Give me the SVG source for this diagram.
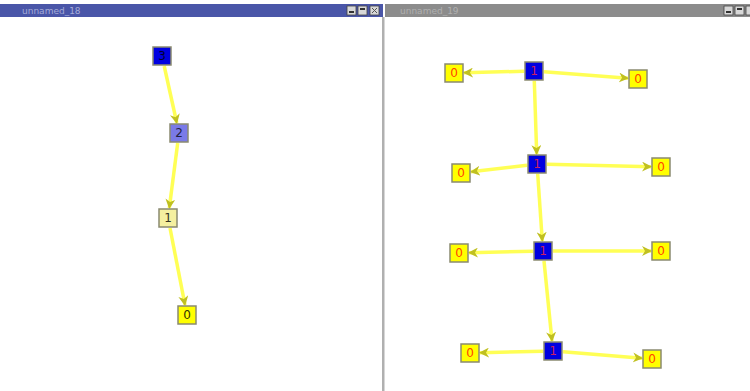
<svg xmlns="http://www.w3.org/2000/svg" width="750" height="391" viewBox="0 0 750 391">
<defs>
<style>
.edge{stroke:#ffff55;stroke-width:3.5;fill:none;marker-end:url(#ah)}
.nd{stroke:#8a8a70;stroke-width:1.5}
.lbl{font-family:"DejaVu Sans",sans-serif;font-size:12px;text-anchor:middle;dominant-baseline:central}
.title{font-family:"DejaVu Sans",sans-serif;font-size:9px}
.btn{fill:#d8d8d8;stroke:#444;stroke-width:0.8}
</style>
<marker id="ah" viewBox="0 0 10 10" refX="9" refY="5" markerWidth="10" markerHeight="10" markerUnits="userSpaceOnUse" orient="auto">
<path d="M0,0 L10,5 L0,10 L3,5 Z" fill="#c0c020"/>
</marker>
</defs>
<rect x="0" y="0" width="750" height="391" fill="#ffffff"/>
<g id="window-left">
<rect x="0" y="4" width="383" height="13" fill="#4a56a8"/>
<text class="title" x="22" y="14" fill="#a6acd8">unnamed_18</text>
<rect class="btn" x="347" y="6" width="9" height="9"/>
<rect x="349" y="11" width="5" height="2" fill="#333"/>
<rect class="btn" x="358" y="6" width="9" height="9"/>
<rect x="360" y="8" width="5" height="2" fill="#333"/>
<rect class="btn" x="370" y="6" width="9" height="9"/>
<path d="M372,8 L377,13 M377,8 L372,13" stroke="#555" stroke-width="1"/>
</g>
<g id="window-right">
<rect x="385" y="4" width="365" height="13" fill="#8c8c8c"/>
<text class="title" x="400" y="14" fill="#b0b0b0">unnamed_19</text>
<rect class="btn" x="724" y="6" width="9" height="9"/>
<rect x="726" y="11" width="5" height="2" fill="#333"/>
<rect class="btn" x="735" y="6" width="9" height="9"/>
<rect x="737" y="8" width="5" height="2" fill="#333"/>
<rect class="btn" x="746" y="6" width="9" height="9"/>
</g>
<rect x="382" y="17" width="2.5" height="374" fill="#b0b0b0"/>
<g id="connectors">
<line class="edge" x1="164.2" y1="66" x2="176.8" y2="123"/>
<line class="edge" x1="177.7" y1="143" x2="169.3" y2="208"/>
<line class="edge" x1="170" y1="228" x2="185" y2="305"/>
<line class="edge" x1="524" y1="71.2" x2="464" y2="72.8"/>
<line class="edge" x1="544" y1="71.8" x2="628" y2="78.2"/>
<line class="edge" x1="534.3" y1="81" x2="536.7" y2="154"/>
<line class="edge" x1="527" y1="165.2" x2="471" y2="171.8"/>
<line class="edge" x1="547" y1="164.2" x2="651" y2="166.8"/>
<line class="edge" x1="537.7" y1="174" x2="542.3" y2="241"/>
<line class="edge" x1="533" y1="251.2" x2="469" y2="252.8"/>
<line class="edge" x1="553" y1="251" x2="651" y2="251"/>
<line class="edge" x1="544" y1="261" x2="552" y2="341"/>
<line class="edge" x1="543" y1="351.2" x2="480" y2="352.8"/>
<line class="edge" x1="563" y1="351.8" x2="642" y2="358.2"/>
</g>
<g id="L3"><rect class="nd" x="153" y="47" width="18" height="18" fill="#0000e0"/><text class="lbl" x="162" y="56" fill="#000030">3</text></g>
<g id="L2"><rect class="nd" x="170" y="124" width="18" height="18" fill="#7a7ae8"/><text class="lbl" x="179" y="133" fill="#222244">2</text></g>
<g id="L1"><rect class="nd" x="159" y="209" width="18" height="18" fill="#f5f0a0"/><text class="lbl" x="168" y="218" fill="#333322">1</text></g>
<g id="L0"><rect class="nd" x="178" y="306" width="18" height="18" fill="#ffff00"/><text class="lbl" x="187" y="315" fill="#333300">0</text></g>
<g id="R1a"><rect class="nd" x="525" y="62" width="18" height="18" fill="#0000e0"/><text class="lbl" x="534" y="71" fill="#c82060">1</text></g>
<g id="R0a"><rect class="nd" x="445" y="64" width="18" height="18" fill="#ffff00"/><text class="lbl" x="454" y="73" fill="#ff4400">0</text></g>
<g id="R0b"><rect class="nd" x="629" y="70" width="18" height="18" fill="#ffff00"/><text class="lbl" x="638" y="79" fill="#ff4400">0</text></g>
<g id="R1b"><rect class="nd" x="528" y="155" width="18" height="18" fill="#0000e0"/><text class="lbl" x="537" y="164" fill="#c82060">1</text></g>
<g id="R0c"><rect class="nd" x="452" y="164" width="18" height="18" fill="#ffff00"/><text class="lbl" x="461" y="173" fill="#ff4400">0</text></g>
<g id="R0d"><rect class="nd" x="652" y="158" width="18" height="18" fill="#ffff00"/><text class="lbl" x="661" y="167" fill="#ff4400">0</text></g>
<g id="R1c"><rect class="nd" x="534" y="242" width="18" height="18" fill="#0000e0"/><text class="lbl" x="543" y="251" fill="#c82060">1</text></g>
<g id="R0e"><rect class="nd" x="450" y="244" width="18" height="18" fill="#ffff00"/><text class="lbl" x="459" y="253" fill="#ff4400">0</text></g>
<g id="R0f"><rect class="nd" x="652" y="242" width="18" height="18" fill="#ffff00"/><text class="lbl" x="661" y="251" fill="#ff4400">0</text></g>
<g id="R1d"><rect class="nd" x="544" y="342" width="18" height="18" fill="#0000e0"/><text class="lbl" x="553" y="351" fill="#c82060">1</text></g>
<g id="R0g"><rect class="nd" x="461" y="344" width="18" height="18" fill="#ffff00"/><text class="lbl" x="470" y="353" fill="#ff4400">0</text></g>
<g id="R0h"><rect class="nd" x="643" y="350" width="18" height="18" fill="#ffff00"/><text class="lbl" x="652" y="359" fill="#ff4400">0</text></g>
</svg>
